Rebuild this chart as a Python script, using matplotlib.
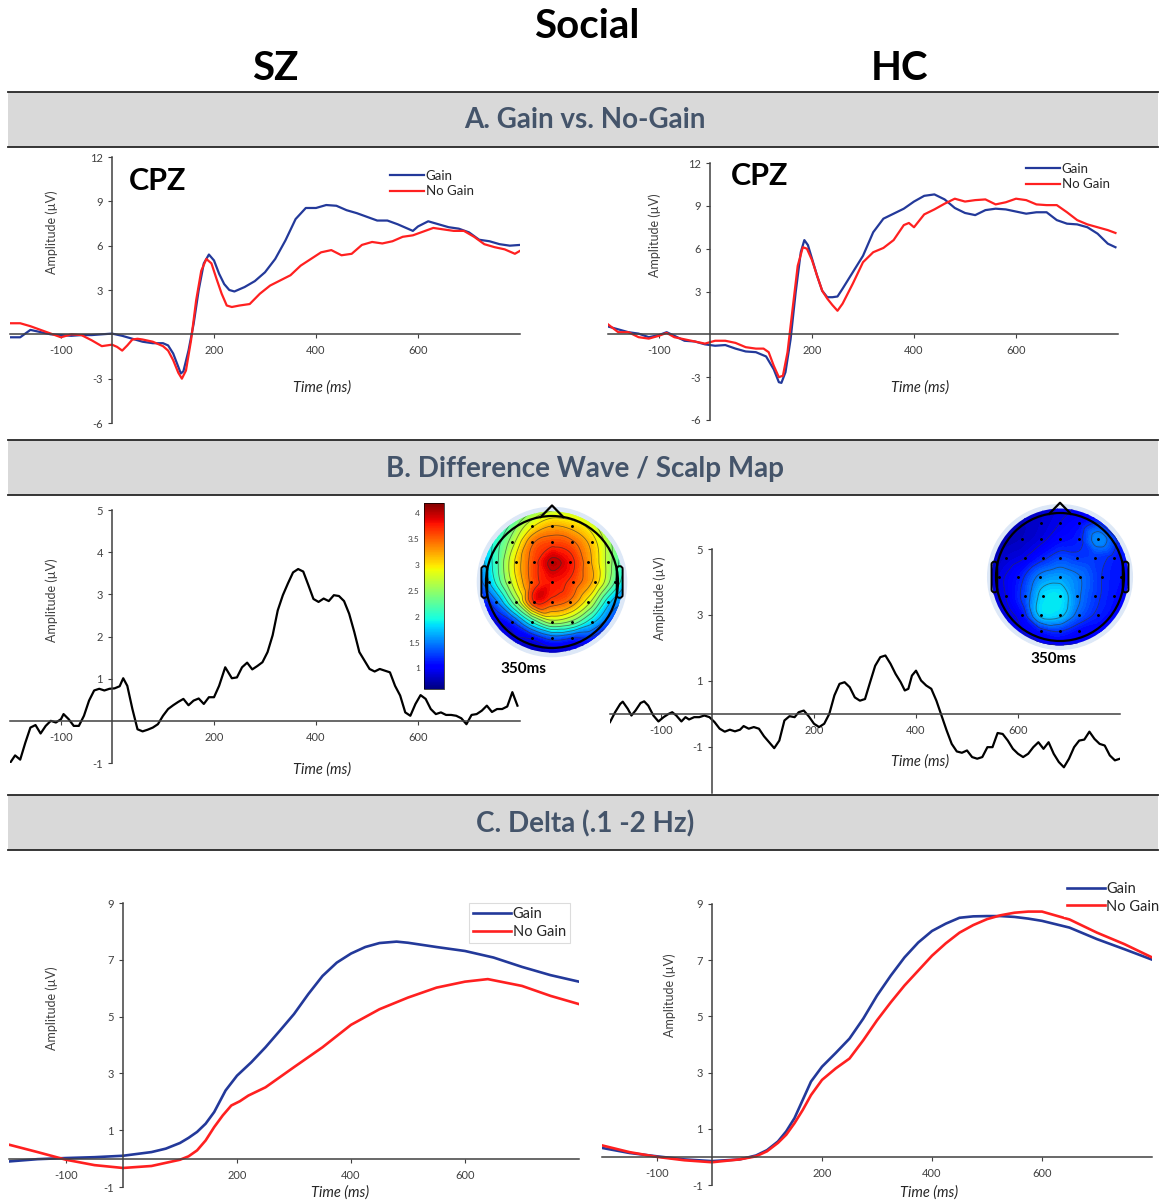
import numpy as np
import matplotlib
matplotlib.use('Agg')
import matplotlib.pyplot as plt
import matplotlib.tri as mtri
from matplotlib.patches import Rectangle, Circle, FancyBboxPatch
from matplotlib.colors import Normalize
from matplotlib.cm import ScalarMappable

plt.rcParams['font.family'] = ['Lato', 'DejaVu Sans']
plt.rcParams['axes.unicode_minus'] = False

# ---- ERP at CPZ, gain vs no gain (uV) ----
sz_gain_t = [-200, -180, -160, -140, -120, -100, -80, -60, -40, -20, 0, 20, 40, 60, 80, 100,
             110, 120, 130, 135, 140, 150, 160, 170, 180, 190, 200, 210, 220, 230, 240, 260,
             280, 300, 320, 340, 360, 380, 400, 420, 440, 460, 480, 500, 520, 540, 560, 580,
             590, 600, 620, 640, 660, 680, 700, 720, 740, 760, 780, 800]
sz_gain_v = [-0.2, -0.2, 0.3, 0.15, 0, -0.05, -0.1, -0.05, -0.05, 0, 0.05, -0.1, -0.3, -0.5,
             -0.6, -0.6, -0.75, -1.3, -2.2, -2.65, -2.5, -1.1, 0.7, 3.0, 4.8, 5.4, 5.0, 4.1,
             3.4, 3.0, 2.9, 3.2, 3.6, 4.2, 5.1, 6.35, 7.8, 8.55, 8.55, 8.75, 8.7, 8.4, 8.2,
             7.95, 7.7, 7.7, 7.45, 7.15, 7.0, 7.3, 7.65, 7.45, 7.25, 7.15, 6.9, 6.4, 6.3, 6.1,
             6.0, 6.05]
sz_nogain_t = [-200, -180, -160, -140, -120, -100, -80, -60, -40, -20, 0, 10, 20, 30, 40, 50,
               60, 80, 100, 110, 120, 130, 137, 145, 155, 165, 175, 185, 195, 205, 215, 225,
               235, 250, 270, 290, 310, 330, 350, 370, 390, 410, 430, 450, 470, 490, 510, 530,
               550, 570, 590, 610, 630, 650, 670, 690, 710, 730, 750, 770, 790, 800]
sz_nogain_v = [0.75, 0.75, 0.55, 0.3, 0.05, -0.2, 0, -0.05, -0.4, -0.8, -0.7, -0.85, -1.1,
               -0.75, -0.35, -0.3, -0.35, -0.5, -0.8, -1.1, -1.75, -2.6, -3.0, -2.45, -0.4,
               2.3, 4.3, 5.1, 4.8, 3.75, 2.75, 1.95, 1.85, 1.95, 2.05, 2.75, 3.3, 3.65, 4.0,
               4.65, 5.1, 5.55, 5.7, 5.35, 5.45, 6.05, 6.25, 6.15, 6.3, 6.6, 6.7, 6.95, 7.2,
               7.1, 7.0, 7.0, 6.6, 6.1, 5.9, 5.75, 5.45, 5.65]
hc_gain_t = [-200, -180, -160, -140, -120, -100, -85, -70, -50, -30, -10, 10, 30, 50, 70, 90,
             110, 125, 135, 140, 148, 158, 168, 178, 185, 192, 200, 210, 220, 230, 240, 250,
             260, 280, 300, 320, 340, 360, 380, 400, 420, 440, 460, 480, 500, 520, 540, 560,
             580, 600, 620, 640, 660, 680, 700, 720, 740, 760, 780, 795]
hc_gain_v = [0.55, 0.35, 0.15, 0.05, -0.2, -0.05, 0.15, -0.1, -0.45, -0.5, -0.7, -0.8, -0.75,
             -1.0, -1.2, -1.25, -1.55, -2.45, -3.35, -3.4, -2.65, -0.35, 2.95, 5.75, 6.6,
             6.25, 5.3, 4.1, 3.05, 2.6, 2.6, 2.65, 3.2, 4.35, 5.5, 7.15, 8.1, 8.45, 8.8, 9.3,
             9.7, 9.8, 9.45, 8.85, 8.5, 8.35, 8.7, 8.8, 8.75, 8.6, 8.45, 8.55, 8.55, 8.0,
             7.75, 7.7, 7.5, 7.05, 6.35, 6.1]
hc_nogain_t = [-200, -180, -160, -140, -120, -100, -85, -70, -50, -30, -10, 10, 30, 50, 70,
               90, 105, 115, 125, 135, 143, 152, 162, 172, 182, 190, 200, 210, 220, 230, 240,
               250, 260, 280, 300, 320, 340, 360, 380, 390, 400, 420, 440, 460, 480, 500,
               520, 540, 560, 580, 600, 620, 640, 660, 680, 700, 720, 740, 760, 780, 795]
hc_nogain_v = [0.7, 0.15, 0.15, -0.2, -0.3, -0.1, 0.1, -0.2, -0.35, -0.5, -0.65, -0.45, -0.45,
               -0.6, -0.9, -1.0, -1.0, -1.25, -2.2, -3.0, -2.9, -1.25, 1.8, 4.8, 6.1, 6.0,
               5.2, 4.1, 3.05, 2.5, 2.05, 1.65, 2.15, 3.55, 5.05, 5.75, 6.05, 6.6, 7.65, 7.8,
               7.5, 8.4, 8.75, 9.15, 9.5, 9.3, 9.4, 9.45, 9.1, 9.25, 9.5, 9.4, 9.1, 9.05,
               9.05, 8.55, 8.0, 7.7, 7.5, 7.3, 7.1]

# ---- difference waves (gain - no gain) ----
sz_diff_t = [-200, -190, -180, -170, -160, -150, -140, -130, -120, -110, -100, -95, -85, -75,
             -65, -55, -45, -35, -25, -15, -5, 5, 15, 22, 30, 40, 50, 60, 70, 80, 90, 100,
             110, 120, 130, 140, 150, 160, 170, 180, 190, 200, 210, 222, 235, 245, 255, 265,
             275, 285, 295, 305, 315, 325, 335, 345, 355, 365, 375, 385, 395, 405, 415, 425,
             435, 445, 455, 465, 475, 485, 495, 505, 515, 525, 535, 545, 555, 565, 575, 585,
             595, 605, 615, 625, 635, 645, 655, 665, 675, 685, 695, 705, 715, 725, 735, 745,
             755, 765, 775, 785, 795]
sz_diff_v = [-1.0, -0.82, -0.92, -0.52, -0.16, -0.1, -0.3, -0.12, 0, -0.04, 0.04, 0.16, 0.04,
             -0.12, -0.12, 0.12, 0.48, 0.72, 0.76, 0.72, 0.76, 0.77, 0.82, 1.01, 0.83, 0.28,
             -0.2, -0.25, -0.21, -0.16, -0.08, 0.12, 0.28, 0.37, 0.45, 0.52, 0.37, 0.48, 0.53,
             0.4, 0.56, 0.56, 0.83, 1.27, 1.01, 1.03, 1.27, 1.38, 1.22, 1.3, 1.39, 1.63, 2.03,
             2.62, 2.98, 3.26, 3.52, 3.6, 3.54, 3.22, 2.89, 2.82, 2.9, 2.84, 2.98, 2.96, 2.84,
             2.54, 2.11, 1.63, 1.43, 1.23, 1.17, 1.23, 1.19, 1.15, 0.83, 0.6, 0.2, 0.12, 0.4,
             0.61, 0.52, 0.28, 0.16, 0.2, 0.14, 0.14, 0.12, 0.06, -0.08, 0.14, 0.16, 0.24,
             0.36, 0.21, 0.28, 0.28, 0.34, 0.68, 0.36]
hc_diff_t = [-200, -190, -180, -175, -165, -158, -150, -140, -133, -125, -115, -105, -95, -85,
             -78, -70, -60, -52, -45, -35, -25, -15, -5, 5, 15, 25, 35, 45, 55, 62, 72, 82,
             92, 102, 112, 122, 132, 142, 152, 162, 170, 180, 190, 200, 210, 220, 230, 240,
             250, 260, 270, 280, 290, 300, 310, 320, 330, 340, 350, 360, 370, 378, 385, 392,
             400, 410, 420, 430, 440, 450, 460, 470, 480, 490, 500, 510, 520, 530, 540, 550,
             560, 570, 580, 590, 600, 610, 620, 630, 640, 650, 660, 670, 680, 690, 700, 710,
             720, 730, 740, 750, 760, 770, 780, 790, 800]
hc_diff_v = [-0.25, 0.05, 0.3, 0.37, 0.15, -0.05, 0.1, 0.33, 0.38, 0.25, -0.05, -0.23, -0.1,
             0, 0.05, -0.05, -0.23, -0.1, -0.17, -0.1, -0.1, -0.05, -0.1, -0.25, -0.45, -0.54,
             -0.48, -0.53, -0.48, -0.37, -0.45, -0.4, -0.45, -0.68, -0.86, -1.04, -0.81, -0.2,
             -0.07, -0.1, 0.05, 0.1, -0.08, -0.3, -0.4, -0.3, 0, 0.56, 0.91, 0.96, 0.81, 0.5,
             0.4, 0.45, 0.96, 1.46, 1.72, 1.77, 1.52, 1.21, 0.96, 0.71, 0.76, 1.16, 1.31,
             1.01, 0.86, 0.76, 0.4, -0.05, -0.5, -0.91, -1.14, -1.18, -1.11, -1.31, -1.36,
             -1.31, -1.01, -1.01, -0.58, -0.61, -0.81, -1.06, -1.21, -1.31, -1.21, -1.01,
             -0.86, -1.06, -0.86, -1.21, -1.46, -1.62, -1.36, -1.01, -0.81, -0.78, -0.54,
             -0.76, -0.91, -0.96, -1.26, -1.41, -1.36]

# ---- delta band (.1 - 2 Hz) ----
sz_delta_gain_t = [-200, -150, -100, -50, 0, 50, 75, 100, 115, 130, 145, 160, 180, 200, 225,
                   250, 275, 300, 325, 350, 375, 400, 425, 450, 480, 500, 550, 600, 650, 700,
                   750, 800]
sz_delta_gain_v = [-0.1, -0.02, 0.02, 0.05, 0.1, 0.23, 0.35, 0.55, 0.73, 0.94, 1.23, 1.64,
                   2.4, 2.92, 3.39, 3.92, 4.5, 5.09, 5.79, 6.43, 6.9, 7.22, 7.45, 7.59, 7.64,
                   7.6, 7.45, 7.31, 7.08, 6.75, 6.46, 6.23]
sz_delta_nogain_t = [-200, -150, -100, -50, 0, 50, 100, 115, 130, 145, 160, 175, 190, 205,
                     220, 250, 300, 350, 400, 450, 500, 550, 600, 640, 700, 750, 800]
sz_delta_nogain_v = [0.49, 0.23, -0.04, -0.23, -0.33, -0.26, -0.04, 0.08, 0.29, 0.64, 1.11,
                     1.52, 1.87, 2.02, 2.22, 2.51, 3.22, 3.92, 4.71, 5.26, 5.67, 6.02, 6.23,
                     6.32, 6.08, 5.73, 5.44]
hc_delta_t = [-200, -150, -100, -50, 0, 50, 80, 100, 120, 135, 150, 165, 180, 200, 225, 250,
              275, 300, 325, 350, 375, 400, 425, 450, 475, 500, 525, 550, 575, 600, 650, 700,
              750, 800]
hc_delta_gain_v = [0.32, 0.14, 0.02, -0.09, -0.15, -0.09, 0.05, 0.24, 0.55, 0.91, 1.38, 2.03,
                   2.68, 3.21, 3.7, 4.21, 4.92, 5.74, 6.45, 7.1, 7.63, 8.04, 8.3, 8.51, 8.56,
                   8.57, 8.57, 8.54, 8.48, 8.4, 8.16, 7.75, 7.39, 7.02]
hc_delta_nogain_v = [0.41, 0.17, 0, -0.12, -0.19, -0.09, 0.02, 0.2, 0.5, 0.79, 1.2, 1.67, 2.2,
                     2.74, 3.15, 3.5, 4.15, 4.86, 5.5, 6.1, 6.63, 7.16, 7.6, 7.98, 8.25, 8.46,
                     8.6, 8.69, 8.73, 8.73, 8.45, 7.98, 7.57, 7.1]

# ---- scalp maps at 350 ms: electrode rows (front to back), amplitude per electrode ----
row_y = [0.85, 0.6, 0.3, 0.0, -0.3, -0.6, -0.85]
row_x = [[-0.3, 0, 0.3],
         [-0.6, -0.3, 0, 0.3, 0.6],
         [-0.85, -0.55, -0.27, 0, 0.27, 0.55, 0.85],
         [-0.95, -0.65, -0.32, 0, 0.32, 0.65, 0.95],
         [-0.85, -0.55, -0.27, 0, 0.27, 0.55, 0.85],
         [-0.6, -0.3, 0, 0.3, 0.6],
         [-0.3, 0, 0.3]]
sz_topo = [[2.9, 3.2, 3.1],
           [2.6, 3.4, 3.6, 3.5, 3.1],
           [2.1, 3.0, 3.6, 4.0, 3.8, 3.3, 2.6],
           [1.7, 2.6, 3.5, 3.8, 3.6, 3.1, 2.2],
           [1.4, 2.4, 3.7, 3.6, 3.4, 2.8, 1.8],
           [1.2, 2.0, 2.6, 2.4, 1.8],
           [1.0, 1.3, 1.2]]
hc_topo = [[0.85, 0.95, 1.05],
           [0.8, 0.9, 1.05, 1.15, 1.55],
           [0.85, 0.95, 1.15, 1.3, 1.25, 1.25, 1.15],
           [0.9, 1.1, 1.5, 1.6, 1.45, 1.2, 1.1],
           [0.95, 1.3, 1.8, 1.85, 1.5, 1.25, 1.1],
           [1.05, 1.75, 1.75, 1.35, 1.15],
           [1.1, 1.2, 1.05]]
rim_angles = [90, 60, 30, 0, -30, -60, -90, -120, -150, 180, 150, 120]
sz_rim = [2.6, 2.7, 2.3, 1.7, 1.2, 0.9, 0.7, 0.8, 0.9, 1.3, 1.8, 2.2]
hc_rim = [0.9, 1.0, 1.1, 1.05, 1.0, 0.95, 0.9, 0.9, 0.85, 0.8, 0.75, 0.8]
cbar_ticks = [1, 1.5, 2, 2.5, 3, 3.5, 4]

xtick_pos = [-100, 200, 400, 600]

W, H = 1163, 1204
BLUE = '#23399a'
RED = '#ff2020'
GREY = '#404040'
HEAD = '#44546a'
norm = Normalize(0.6, 4.2)

fig = plt.figure(figsize=(W / 100, H / 100), dpi=100, facecolor='white')


def px_rect(x0, y0, x1, y1):
    return [x0 / W, 1 - y1 / H, (x1 - x0) / W, (y1 - y0) / H]


# page layer in pixel units for bands and free text
bg = fig.add_axes([0, 0, 1, 1])
bg.set_xlim(0, W)
bg.set_ylim(H, 0)
bg.axis('off')

bg.text(587, 26, 'Social', ha='center', va='center', fontsize=29, fontweight='bold')
bg.text(275, 68, 'SZ', ha='center', va='center', fontsize=29, fontweight='bold')
bg.text(899, 68, 'HC', ha='center', va='center', fontsize=29, fontweight='bold')

for title, top, bot in [('A. Gain vs. No-Gain', 92, 147),
                        ('B. Difference Wave / Scalp Map', 440, 495),
                        ('C. Delta (.1 -2 Hz)', 795, 850)]:
    bg.add_patch(Rectangle((8, top), 1150, bot - top, facecolor='#d9d9d9', edgecolor='none'))
    bg.plot([8, 1158], [top, top], color='#262626', lw=1.3)
    bg.plot([8, 1158], [bot, bot], color='#262626', lw=1.3)
    bg.text(585, (top + bot) / 2 + 1, title, ha='center', va='center', fontsize=20,
            fontweight='bold', color=HEAD)


def erp_axes(x0, y0, x1, y1, ylim, yticks):
    ax = fig.add_axes(px_rect(x0, y0, x1, y1))
    ax.set_xlim(-200, 800)
    ax.set_ylim(ylim)
    ax.patch.set_visible(False)
    ax.spines[['top', 'right']].set_visible(False)
    for side in ('left', 'bottom'):
        ax.spines[side].set_position(('data', 0))
        ax.spines[side].set_color(GREY)
        ax.spines[side].set_linewidth(1.1)
    ax.set_xticks(xtick_pos)
    ax.set_yticks(yticks)
    ax.tick_params(labelsize=8, colors=GREY, length=3, width=0.8)
    ax.tick_params(axis='x', pad=5)
    return ax


def axis_labels(amp_xy, time_xy):
    bg.text(*amp_xy, 'Amplitude (µV)', rotation=90, ha='center', va='center', fontsize=9,
            color=GREY)
    bg.text(*time_xy, 'Time (ms)', ha='center', va='center', fontsize=10.5, style='italic',
            color='#262626')


def legend(ax, lines, x, y, size, framed=False, edge='white', pad=0.0):
    leg = ax.legend(lines, ['Gain', 'No Gain'], loc='upper left',
                    bbox_to_anchor=(x / W, 1 - y / H), bbox_transform=fig.transFigure,
                    frameon=framed, fontsize=size, handlelength=2.6, handletextpad=0.1,
                    labelspacing=0.25, borderpad=pad, borderaxespad=0, fancybox=False)
    if framed:
        leg.get_frame().set_edgecolor(edge)
        leg.get_frame().set_facecolor('white')
        leg.get_frame().set_alpha(1)
        leg.get_frame().set_linewidth(0.8)
    for t in leg.get_texts():
        t.set_color('#262626')
    return leg


# A. gain vs no gain at CPZ
for x0, x1, y0, y1, data, cpz, leg_xy, amp_xy, time_xy in [
        (10, 520, 157, 423, (sz_gain_t, sz_gain_v, sz_nogain_t, sz_nogain_v), (158, 181),
         (390, 170), (52, 232), (322, 388)),
        (608, 1118, 163, 420, (hc_gain_t, hc_gain_v, hc_nogain_t, hc_nogain_v), (760, 176),
         (1026, 163), (655, 235), (920, 388))]:
    ax = erp_axes(x0, y0, x1, y1, (-6, 12), [-6, -3, 3, 6, 9, 12])
    g, = ax.plot(data[0], data[1], color=BLUE, lw=1.6)
    n, = ax.plot(data[2], data[3], color=RED, lw=1.6)
    legend(ax, [g, n], *leg_xy, 9.5)
    bg.text(*cpz, 'CPZ', ha='center', va='center', fontsize=22, fontweight='bold')
    axis_labels(amp_xy, time_xy)

# B. difference waves
ax = erp_axes(10, 510, 520, 763, (-1, 5), [-1, 1, 2, 3, 4, 5])
ax.plot(sz_diff_t, sz_diff_v, color='black', lw=1.6)
axis_labels((52, 600), (322, 770))

ax = erp_axes(610, 549, 1120, 793, (-2.4, 5), [-1, 1, 3, 5])
ax.plot(hc_diff_t, hc_diff_v, color='black', lw=1.6)
axis_labels((660, 598), (920, 762))

# C. delta band
ax = erp_axes(9, 903, 579, 1187, (-1, 9), [-1, 1, 3, 5, 7, 9])
g, = ax.plot(sz_delta_gain_t, sz_delta_gain_v, color=BLUE, lw=1.9)
n, = ax.plot(sz_delta_nogain_t, sz_delta_nogain_v, color=RED, lw=1.9)
legend(ax, [g, n], 469, 903, 10.5, framed=True, edge='#dcdcdc', pad=0.3)
axis_labels((52, 1008), (340, 1193))

ax = erp_axes(602, 904, 1152, 1185, (-1, 9), [-1, 1, 3, 5, 7, 9])
g, = ax.plot(hc_delta_t, hc_delta_gain_v, color=BLUE, lw=1.9)
n, = ax.plot(hc_delta_t, hc_delta_nogain_v, color=RED, lw=1.9)
legend(ax, [g, n], 1064, 879, 10.5, framed=True, edge='white', pad=0.2)
axis_labels((670, 995), (929, 1193))


# scalp maps
elec_x = np.concatenate([np.array(r, float) for r in row_x])
elec_y = np.concatenate([np.full(len(r), y) for r, y in zip(row_x, row_y)])


def topo(cx, cy, r, rows, rim):
    size = 2.6 * r
    ax = fig.add_axes(px_rect(cx - size / 2, cy - size / 2, cx + size / 2, cy + size / 2))
    ax.set_xlim(-1.3, 1.3)
    ax.set_ylim(-1.3, 1.3)
    ax.axis('off')
    ang = np.deg2rad(rim_angles)
    px = np.concatenate([elec_x, 1.12 * np.cos(ang)])
    py = np.concatenate([elec_y, 1.12 * np.sin(ang)])
    pv = np.concatenate([np.concatenate([np.array(v, float) for v in rows]), rim])
    interp = mtri.CubicTriInterpolator(mtri.Triangulation(px, py), pv, kind='geom')
    g = np.linspace(-1.1, 1.1, 241)
    gx, gy = np.meshgrid(g, g)
    gz = interp(gx, gy)
    clip = Circle((0, 0), 1.07, transform=ax.transData)
    ax.add_patch(Circle((0, 0), 1.13, color='#dde8f7', zorder=0))
    cf = ax.contourf(gx, gy, gz, levels=np.linspace(0.3, 4.5, 85), cmap='jet', norm=norm,
                     extend='both', zorder=1)
    cf.set_clip_path(clip)
    cl = ax.contour(gx, gy, gz, levels=np.arange(0.7, 4.2, 0.25), colors='#303030',
                    linewidths=0.6, alpha=0.6, zorder=2)
    cl.set_clip_path(clip)
    ax.add_patch(Circle((0, 0), 1.0, fill=False, lw=1.6, color='black', zorder=3))
    ax.plot([-0.17, 0, 0.17], [0.985, 1.16, 0.985], color='black', lw=1.6, zorder=3)
    for side in (-1, 1):
        ax.add_patch(FancyBboxPatch((side * 1.025 - 0.045, -0.24), 0.09, 0.48,
                                    boxstyle='round,pad=0,rounding_size=0.045', fill=False,
                                    lw=1.4, ec='black', zorder=3))
    ax.plot(elec_x, elec_y, 'o', ms=1.1, color='black', zorder=4)
    return ax


topo(552, 582, 66, sz_topo, sz_rim)
topo(1060, 577, 64, hc_topo, hc_rim)
bg.text(523, 669, '350ms', ha='center', va='center', fontsize=11, fontweight='bold')
bg.text(1053, 659, '350ms', ha='center', va='center', fontsize=11, fontweight='bold')

cax = fig.add_axes(px_rect(424, 503, 444, 689))
cb = fig.colorbar(ScalarMappable(norm=norm, cmap='jet'), cax=cax)
cb.set_ticks(cbar_ticks)
cb.set_ticklabels([f'{t:g}' for t in cbar_ticks])
cax.yaxis.set_ticks_position('left')
cax.tick_params(labelsize=6, colors=GREY, length=0, pad=3)
cb.outline.set_linewidth(0.5)

fig.savefig('out.png', dpi=100, facecolor='white')
